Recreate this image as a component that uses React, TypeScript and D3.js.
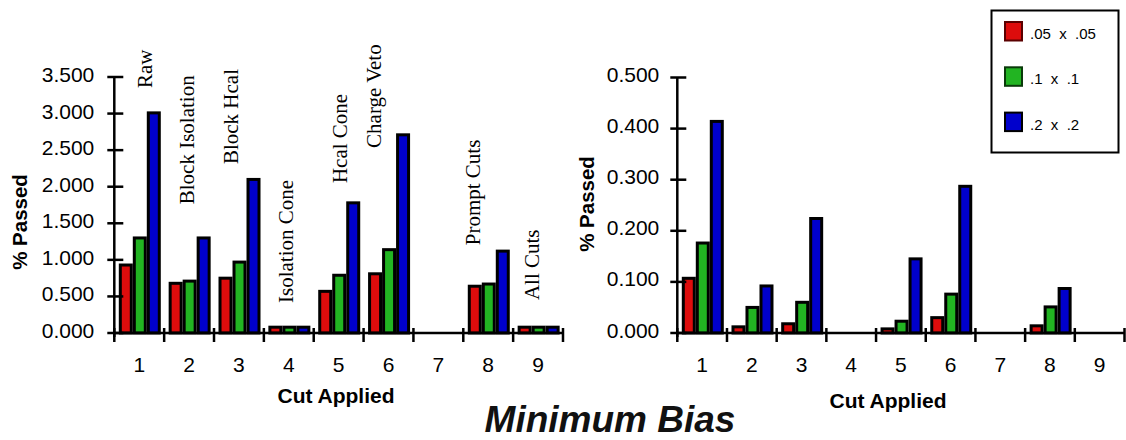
import React from "react";
import * as d3 from "d3";

// ---- data ----
const categories = ["1", "2", "3", "4", "5", "6", "7", "8", "9"];
const seriesNames = [".05  x  .05", ".1  x  .1", ".2  x  .2"];
const cutLabels = ["Raw", "Block Isolation", "Block Hcal", "Isolation Cone", "Hcal Cone", "Charge Veto", "", "Prompt Cuts", "All Cuts"];

const leftRed = [0.95, 0.70, 0.77, 0.10, 0.59, 0.83, 0, 0.66, 0.10];
const leftGreen = [1.32, 0.73, 0.99, 0.10, 0.81, 1.16, 0, 0.69, 0.10];
const leftBlue = [3.03, 1.32, 2.12, 0.10, 1.80, 2.73, 0, 1.14, 0.10];

const rightRed = [0.110, 0.015, 0.021, 0, 0.011, 0.033, 0, 0.017, 0];
const rightGreen = [0.179, 0.053, 0.063, 0, 0.026, 0.079, 0, 0.054, 0];
const rightBlue = [0.417, 0.095, 0.227, 0, 0.148, 0.290, 0, 0.090, 0];

const leftTicks = [0, 0.5, 1, 1.5, 2, 2.5, 3, 3.5];
const rightTicks = [0, 0.1, 0.2, 0.3, 0.4, 0.5];

// label anchor (data units, where the rotated text starts) for left chart
const labelAt = [3.35, 1.76, 2.31, 0.41, 2.05, 2.53, 0, 1.2, 0.45];

// ---- layout / style ----
const labelDx = [13, 5, -1, 4, 8, -7.5, 0, -8, 1];
const colors = ["#dd0c0c", "#22b422", "#0000cc"];
const swatchStroke = ["#5a0000", "#0a3a0a", "#000000"];
const SANS = "'Liberation Sans', Arial, Helvetica, sans-serif";
const SERIF = "'Liberation Serif', 'Times New Roman', serif";

type PanelProps = {
  x0: number;
  x1: number;
  yTop: number;
  yBottom: number;
  max: number;
  ticks: number[];
  series: number[][];
  labels?: boolean;
  tickLabelGap: number;
  tickLabelDy: number;
  yTitleX: number;
  yTitleY: number;
  xTitleX: number;
  xTitleY: number;
};

function Panel(p: PanelProps) {
  const x = d3.scaleBand<string>().domain(categories).range([p.x0, p.x1]).paddingInner(0).paddingOuter(0);
  const y = d3.scaleLinear().domain([0, p.max]).range([p.yBottom, p.yTop]);
  const bw = x.bandwidth();
  const sub = d3.scaleBand<number>().domain([0, 1, 2]).range([4.5, 4.5 + 42]).padding(0);
  const sw = 3;
  const fmt = d3.format(".3f");
  const edges = categories.map((c) => x(c) as number).concat([p.x1]);
  return (
    <g>
      {p.series.map((vals, si) =>
        vals.map((v, i) => {
          if (!v) return null;
          const bx = (x(categories[i]) as number) + (sub(si) as number);
          const top = y(v);
          return (
            <rect
              key={`b${si}-${i}`}
              x={bx + sw / 2}
              y={top + sw / 2}
              width={sub.bandwidth() - sw}
              height={Math.max(0, p.yBottom - top - sw / 2)}
              fill={colors[si]}
              stroke="#000"
              strokeWidth={sw}
            />
          );
        })
      )}
      {/* y axis */}
      <line x1={p.x0} x2={p.x0} y1={p.yTop} y2={p.yBottom + 4} stroke="#000" strokeWidth={2.5} />
      {p.ticks.map((t) => (
        <g key={`yt${t}`}>
          <line x1={p.x0 - 7} x2={p.x0 + 9} y1={y(t)} y2={y(t)} stroke="#000" strokeWidth={2.5} />
          <text
            x={p.x0 - p.tickLabelGap}
            y={y(t) + p.tickLabelDy}
            textAnchor="end"
            fontFamily={SANS}
            fontSize={21}
            fill="#000"
          >
            {fmt(t)}
          </text>
        </g>
      ))}
      {/* x axis */}
      <line x1={p.x0} x2={p.x1} y1={p.yBottom} y2={p.yBottom} stroke="#000" strokeWidth={2.5} />
      {edges.map((e, i) => (
        <line key={`xt${i}`} x1={e} x2={e} y1={p.yBottom - 5} y2={p.yBottom + 9} stroke="#000" strokeWidth={2.5} />
      ))}
      {categories.map((c) => (
        <text
          key={`xl${c}`}
          x={(x(c) as number) + bw / 2}
          y={p.yBottom + 39}
          textAnchor="middle"
          fontFamily={SANS}
          fontSize={21}
          fill="#000"
        >
          {c}
        </text>
      ))}
      <text
        x={p.xTitleX}
        y={p.xTitleY}
        textAnchor="middle"
        fontFamily={SANS}
        fontWeight="bold"
        fontSize={21}
        fill="#000"
      >
        Cut Applied
      </text>
      <text
        transform={`translate(${p.yTitleX},${p.yTitleY}) rotate(-90)`}
        textAnchor="middle"
        fontFamily={SANS}
        fontWeight="bold"
        fontSize={20.5}
        fill="#000"
      >
        % Passed
      </text>
      {p.labels &&
        cutLabels.map((l, i) =>
          l ? (
            <text
              key={`cl${i}`}
              transform={`translate(${(x(categories[i]) as number) + bw / 2 + labelDx[i]},${y(labelAt[i])}) rotate(-90)`}
              textAnchor="start"
              fontFamily={SERIF}
              fontSize={21}
              fill="#000"
            >
              {l}
            </text>
          ) : null
        )}
    </g>
  );
}

export default function App() {
  return (
    <svg
      width={1126}
      height={440}
      viewBox="0 0 1126 440"
      style={{ position: "absolute", left: 0, top: 0, background: "#fff" }}
    >
      <rect x={0} y={0} width={1126} height={440} fill="#fff" />
      <Panel
        x0={114.3}
        x1={563}
        yTop={77}
        yBottom={333}
        max={3.5}
        ticks={leftTicks}
        series={[leftRed, leftGreen, leftBlue]}
        labels
        tickLabelGap={20}
        tickLabelDy={5}
        yTitleX={27}
        yTitleY={222}
        xTitleX={336}
        xTitleY={402.5}
      />
      <Panel
        x0={677.3}
        x1={1124.5}
        yTop={77.5}
        yBottom={333}
        max={0.5}
        ticks={rightTicks}
        series={[rightRed, rightGreen, rightBlue]}
        tickLabelGap={18}
        tickLabelDy={4.5}
        yTitleX={594}
        yTitleY={204}
        xTitleX={888}
        xTitleY={408}
      />
      {/* legend */}
      <rect x={991.5} y={10.5} width={127} height={142} fill="#fff" stroke="#000" strokeWidth={2} />
      {seriesNames.map((s, i) => (
        <g key={`lg${i}`}>
          <rect
            x={1005}
            y={22 + i * 45.3}
            width={17}
            height={18.5}
            fill={colors[i]}
            stroke={swatchStroke[i]}
            strokeWidth={2}
          />
          <text
            x={1030}
            y={39 + i * 45.3}
            fontFamily={SANS}
            fontSize={15}
            fill="#000"
            style={{ whiteSpace: "pre" }}
          >
            {s}
          </text>
        </g>
      ))}
      <text
        x={610}
        y={432}
        textAnchor="middle"
        fontFamily={SANS}
        fontWeight="bold"
        fontStyle="italic"
        fontSize={37}
        fill="#111"
      >
        Minimum Bias
      </text>
    </svg>
  );
}
